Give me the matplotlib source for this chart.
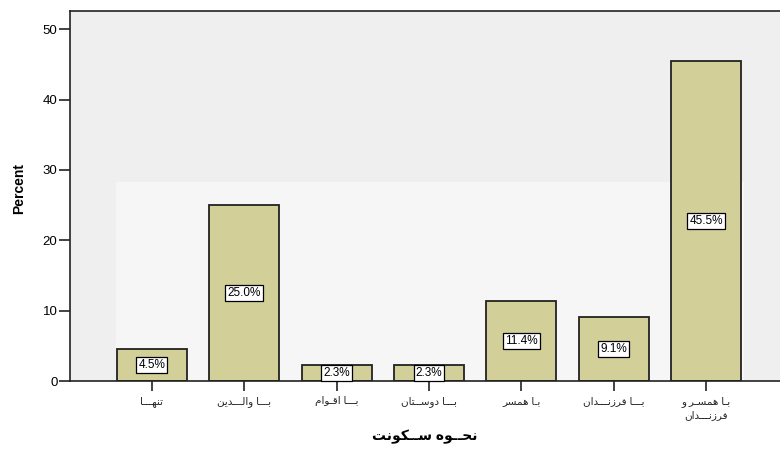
import numpy as np
import matplotlib.pyplot as plt
from matplotlib.patches import Rectangle

# data
categories = ["تنهـــا", "بـــا والـــدين", "بـــا اقـوام", "بـــا دوســتان",
              "بـا همسر", "بـــا فرزنـــدان", "بـا همسـر و\nفرزنـــدان"]
percents = [4.5, 25.0, 2.3, 2.3, 11.4, 9.1, 45.5]
yticks = [0, 10, 20, 30, 40, 50]
xlabel = "نحــوه ســكونت"

# small arabic shaper: matplotlib draws letters one by one, left to right
FORMS = {  # isolated, final, initial, medial
    "ا": ("\uFE8D", "\uFE8E"), "ب": ("\uFE8F", "\uFE90", "\uFE91", "\uFE92"),
    "ت": ("\uFE95", "\uFE96", "\uFE97", "\uFE98"), "ح": ("\uFEA1", "\uFEA2", "\uFEA3", "\uFEA4"),
    "د": ("\uFEA9", "\uFEAA"), "ر": ("\uFEAD", "\uFEAE"), "ز": ("\uFEAF", "\uFEB0"),
    "س": ("\uFEB1", "\uFEB2", "\uFEB3", "\uFEB4"), "ف": ("\uFED1", "\uFED2", "\uFED3", "\uFED4"),
    "ق": ("\uFED5", "\uFED6", "\uFED7", "\uFED8"), "ك": ("\uFED9", "\uFEDA", "\uFEDB", "\uFEDC"),
    "ل": ("\uFEDD", "\uFEDE", "\uFEDF", "\uFEE0"), "م": ("\uFEE1", "\uFEE2", "\uFEE3", "\uFEE4"),
    "ن": ("\uFEE5", "\uFEE6", "\uFEE7", "\uFEE8"), "ه": ("\uFEE9", "\uFEEA", "\uFEEB", "\uFEEC"),
    "و": ("\uFEED", "\uFEEE"), "ي": ("\uFEF1", "\uFEF2", "\uFEF3", "\uFEF4"),
}
TATWEEL = "\u0640"


def joins_next(c):
    return c == TATWEEL or (c in FORMS and len(FORMS[c]) == 4)


def joins_prev(c):
    return c == TATWEEL or c in FORMS


def shape_line(s):
    out = []
    for i, c in enumerate(s):
        if c not in FORMS:
            out.append(c)
            continue
        prev = s[i - 1] if i > 0 else " "
        nxt = s[i + 1] if i + 1 < len(s) else " "
        p = joins_next(prev)
        n = len(FORMS[c]) == 4 and joins_prev(nxt)
        f = FORMS[c]
        if p and n:
            out.append(f[3])
        elif p:
            out.append(f[1])
        elif n:
            out.append(f[2])
        else:
            out.append(f[0])
    return "".join(out)[::-1]


def shape(s):
    return "\n".join(shape_line(l) for l in s.split("\n"))


plt.rcParams['font.family'] = ['Liberation Sans', 'DejaVu Sans']

fig = plt.figure(figsize=(7.8, 4.49), dpi=100)
ax = fig.add_axes([70 / 780, 1 - 381 / 449, 710 / 780, 370 / 449])
ax.set_facecolor("#efefef")

x = np.arange(len(categories))
# faint lighter patch from the watermark
ax.add_patch(Rectangle((-0.39, 0), 6.8, 28.3, facecolor="#f6f6f6", edgecolor="none", zorder=0))

ax.bar(x, percents, width=0.758, color="#d3cf98", edgecolor="#222222", linewidth=1.3, zorder=2)
for xi, v in zip(x, percents):
    ax.text(xi, v / 2, "%.1f%%" % v, ha="center", va="center", fontsize=8.5, zorder=3,
            bbox=dict(boxstyle="square,pad=0.18", facecolor="white", edgecolor="black", linewidth=0.9))

ax.set_xlim(-0.887, 6.8)
ax.set_ylim(0, 52.6)
ax.set_yticks(yticks)
ax.set_xticks(x)
ax.set_xticklabels([shape(c) for c in categories], fontsize=7.5, linespacing=1.3, color="#222222")
ax.tick_params(axis="y", length=8, width=1.2, labelsize=9.5, pad=1, color="#222222")
ax.tick_params(axis="x", length=7, width=1.2, pad=4, color="#222222")

ax.spines["right"].set_visible(False)
for s in ["left", "bottom", "top"]:
    ax.spines[s].set_linewidth(1.2)
    ax.spines[s].set_color("#222222")

ax.set_ylabel("Percent", fontsize=10, fontweight="bold")
ax.yaxis.set_label_coords(-44 / 710, 0.52)
ax.set_xlabel(shape(xlabel), fontsize=10, fontweight="bold", va="center")
ax.xaxis.set_label_coords(0.5, -56 / 370)

fig.savefig("out.png", dpi=100)
